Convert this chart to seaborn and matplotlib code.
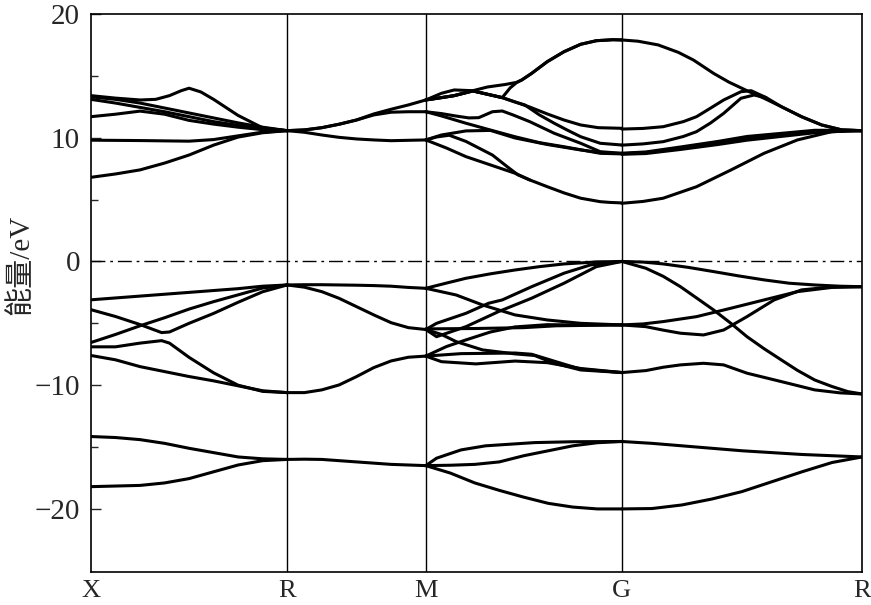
import matplotlib
matplotlib.use("Agg")
import matplotlib.pyplot as plt
import numpy as np
import pandas as pd
import seaborn as sns

# high-symmetry points (path length) and labels
k_nodes = [0.0, 0.707, 1.207, 1.914, 2.780]
k_labels = ["X", "R", "M", "G", "R"]

# common grid of fractions along one segment
FR = [0, .125, .25, .375, .5, .625, .75, .875, 1]

# ---- segment X-R (fraction, energy eV) ----
xr_c1 = [(0, 13.4), (.125, 13.2), (.25, 13.05), (.33, 13.1), (.4, 13.4), (.46, 13.8), (.5, 14.0),
         (.56, 13.7), (.625, 13.1), (.75, 11.8), (.875, 10.8), (1, 10.57)]
xr_c2 = list(zip(FR, [13.3, 13.1, 12.8, 12.4, 12.0, 11.6, 11.2, 10.85, 10.57]))
xr_c3 = list(zip(FR, [13.1, 12.8, 12.45, 12.1, 11.7, 11.3, 11.0, 10.75, 10.57]))
xr_c4 = list(zip(FR, [11.7, 11.9, 12.15, 11.9, 11.4, 11.1, 10.85, 10.65, 10.57]))
xr_c5 = [(0, 9.8), (.25, 9.77), (.5, 9.72), (.625, 9.85), (.75, 10.15), (.875, 10.45), (1, 10.57)]
xr_c6 = list(zip(FR, [6.8, 7.07, 7.4, 7.95, 8.6, 9.4, 10.05, 10.4, 10.57]))
xr_v1 = [(0, -3.1), (.25, -2.8), (.5, -2.5), (.75, -2.2), (.875, -2.0), (1, -1.9)]
xr_v2 = [(0, -3.9), (.125, -4.45), (.25, -5.1), (.36, -5.75), (.4, -5.7), (.5, -5.0), (.625, -4.2),
         (.75, -3.3), (.875, -2.45), (1, -1.9)]
xr_v3 = list(zip(FR, [-6.55, -5.9, -5.2, -4.55, -3.85, -3.25, -2.7, -2.15, -1.9]))
xr_v4 = [(0, -6.9), (.125, -6.9), (.25, -6.6), (.36, -6.4), (.4, -6.6), (.5, -7.75), (.625, -9.0),
         (.75, -10.0), (.875, -10.5), (1, -10.6)]
xr_v5 = list(zip(FR, [-7.6, -7.95, -8.5, -8.9, -9.3, -9.65, -10.05, -10.45, -10.6]))
xr_d1 = list(zip(FR, [-14.15, -14.23, -14.4, -14.7, -15.1, -15.45, -15.8, -15.95, -16.0]))
xr_d2 = list(zip(FR, [-18.2, -18.15, -18.1, -17.9, -17.55, -17.0, -16.45, -16.1, -16.0]))

# ---- segment R-M ----
rm_c1 = list(zip(FR, [10.57, 10.63, 10.81, 11.09, 11.43, 11.92, 12.3, 12.65, 13.05]))
rm_c2 = list(zip(FR, [10.57, 10.63, 10.81, 11.09, 11.43, 11.84, 12.06, 12.1, 12.1]))
rm_c3 = list(zip(FR, [10.57, 10.44, 10.22, 10.03, 9.9, 9.82, 9.76, 9.79, 9.82]))
rm_v1 = list(zip(FR, [-1.9, -1.88, -1.88, -1.9, -1.92, -1.95, -2.0, -2.1, -2.17]))
rm_v2 = list(zip(FR, [-1.9, -2.08, -2.44, -2.98, -3.65, -4.32, -4.95, -5.35, -5.5]))
rm_v3 = list(zip(FR, [-10.6, -10.6, -10.38, -9.98, -9.31, -8.58, -8.04, -7.74, -7.65]))
rm_d1 = list(zip(FR, [-16.0, -15.98, -16.0, -16.1, -16.2, -16.3, -16.4, -16.45, -16.5]))

# ---- segment M-G ----
mg_t = [(0, 13.05), (.08, 13.59), (.145, 13.86), (.24, 13.8), (.315, 14.1), (.405, 14.3), (.465, 14.48),
        (.49, 14.67), (.54, 15.2), (.62, 16.15), (.705, 16.95), (.79, 17.55), (.87, 17.84), (.955, 17.92), (1, 17.9)]
mg_q = [(0, 13.05), (.08, 13.24), (.145, 13.4), (.24, 13.78), (.315, 13.51), (.39, 13.24), (.43, 14.02),
        (.465, 14.48), (.49, 14.67), (.54, 15.2), (.62, 16.15), (.705, 16.95), (.79, 17.55), (.87, 17.84),
        (.955, 17.92), (1, 17.9)]
mg_pa = [(0, 13.05), (.08, 13.24), (.145, 13.4), (.24, 13.78), (.315, 13.51), (.39, 13.24), (.455, 12.89),
         (.53, 12.48), (.62, 11.92), (.705, 11.43), (.79, 11.03), (.88, 10.81), (1, 10.76)]
mg_pb = [(0, 13.05), (.08, 13.24), (.145, 13.4), (.24, 13.78), (.315, 13.51), (.39, 13.24), (.455, 12.89),
         (.505, 12.65), (.58, 11.84), (.655, 11.17), (.72, 10.63), (.79, 10.08), (.89, 9.55), (1, 9.41)]
mg_b = [(0, 12.1), (.08, 11.95), (.155, 11.75), (.22, 11.6), (.27, 11.62), (.34, 12.1), (.39, 12.16),
        (.445, 11.84), (.53, 11.3), (.655, 10.36), (.79, 9.55), (.89, 8.87), (1, 8.74)]
mg_c = [(0, 12.1), (.08, 11.76), (.205, 11.17), (.33, 10.62), (.455, 10.08), (.58, 9.6), (.705, 9.27),
        (.89, 8.74), (1, 8.69)]
mg_d = [(0, 9.82), (.105, 9.17), (.205, 8.47), (.33, 7.8), (.455, 7.13), (.53, 6.59), (.62, 6.04),
        (.705, 5.54), (.79, 5.11), (.89, 4.83), (.94, 4.77), (1, 4.73)]
mg_d2 = [(0, 9.82), (.055, 10.06), (.12, 10.2), (.205, 9.7), (.34, 8.6), (.42, 7.6), (.47, 7.0), (.53, 6.59)]
mg_e = [(0, 9.82), (.08, 10.22), (.205, 10.55), (.33, 10.59), (.455, 9.98), (.62, 9.45), (.79, 9.01),
        (.905, 8.77), (1, 8.73)]
mg_va = [(0, -2.17), (.105, -1.75), (.205, -1.36), (.33, -1.0), (.455, -0.69), (.58, -0.42), (.705, -0.2),
         (.87, -0.04), (1, 0)]
mg_vb = [(0, -2.17), (.155, -2.71), (.29, -3.52), (.455, -4.32), (.62, -4.73), (.79, -5.0), (1, -5.13)]
mg_vc = [(0, -5.5), (.055, -5.0), (.205, -4.19), (.32, -3.38), (.39, -3.11), (.54, -2.04), (.705, -0.95),
         (.84, -0.28), (1, 0)]
mg_vd = [(0, -5.5), (.055, -6.08), (.205, -5.27), (.37, -4.06), (.54, -2.97), (.705, -1.76), (.87, -0.42), (1, 0)]
mg_ve = [(0, -5.45), (.25, -5.42), (.5, -5.35), (.665, -5.2), (1, -5.13)]
mg_vf = [(0, -5.5), (.08, -5.9), (.155, -6.48), (.29, -7.15), (.455, -7.47), (.555, -7.6), (.655, -8.23),
         (.79, -8.77), (1, -8.98)]
mg_vg = [(0, -7.65), (.105, -6.88), (.205, -6.34), (.33, -5.7), (.455, -5.29), (.62, -5.11), (.79, -5.13), (1, -5.13)]
mg_vi = [(0, -7.65), (.18, -7.45), (.455, -7.4), (.54, -7.5), (.705, -8.3), (.79, -8.7), (1, -8.98)]
mg_vj = [(0, -7.65), (.08, -8.1), (.255, -8.28), (.455, -8.05), (.62, -8.18), (.79, -8.65), (1, -8.98)]
mg_d1 = [(0, -16.5), (.055, -15.9), (.18, -15.23), (.305, -14.9), (.555, -14.64), (.75, -14.57), (1, -14.55)]
mg_d2b = list(zip(FR, [-16.5, -16.47, -16.4, -16.2, -15.7, -15.3, -14.9, -14.65, -14.55]))
mg_d3 = list(zip(FR, [-16.5, -17.1, -17.9, -18.5, -19.05, -19.55, -19.85, -20.0, -20.0]))

# ---- segment G-R ----
gr_top = [(0, 17.9), (.067, 17.8), (.151, 17.5), (.235, 16.9), (.298, 16.28), (.382, 15.2), (.445, 14.5),
          (.521, 13.8), (.592, 13.19), (.664, 12.51), (.748, 11.7), (.832, 11.03), (.916, 10.63), (1, 10.57)]
gr_c1 = [(0, 10.7), (.088, 10.75), (.172, 10.89), (.256, 11.3), (.311, 11.7), (.37, 12.4), (.424, 13.05),
         (.496, 13.72), (.538, 13.8), (.6, 13.25), (.664, 12.51), (.748, 11.7), (.832, 11.03), (.916, 10.63), (1, 10.57)]
gr_c2 = [(0, 9.4), (.088, 9.5), (.172, 9.68), (.256, 10.1), (.311, 10.49), (.37, 11.2), (.424, 11.97),
         (.496, 13.19), (.55, 13.45), (.6, 13.25)]
gr_c3a = [(0, 8.75), (.1, 8.85), (.244, 9.25), (.4, 9.7), (.521, 10.1), (.803, 10.6), (.941, 10.6), (1, 10.57)]
gr_c3b = [(0, 8.7), (.1, 8.8), (.244, 9.15), (.4, 9.6), (.521, 9.96), (.803, 10.49), (.941, 10.57), (1, 10.57)]
gr_c3c = [(0, 8.66), (.1, 8.72), (.244, 9.05), (.4, 9.45), (.521, 9.8), (.803, 10.4), (.941, 10.55), (1, 10.57)]
gr_c4 = [(0, 4.7), (.088, 4.85), (.172, 5.11), (.311, 6.04), (.454, 7.39), (.592, 8.74), (.731, 9.82),
         (.874, 10.49), (1, 10.57)]
gr_v1 = [(0, 0), (.088, -0.05), (.172, -0.2), (.277, -0.48), (.382, -0.82), (.487, -1.17), (.592, -1.49),
         (.697, -1.76), (.803, -1.9), (.908, -2.0), (1, -2.04)]
gr_v2 = [(0, 0), (.1, -0.55), (.172, -1.2), (.244, -2.04), (.311, -2.95), (.382, -3.92), (.454, -5.0),
         (.521, -6.08), (.592, -7.05), (.664, -7.96), (.731, -8.8), (.803, -9.58), (.874, -10.1),
         (.941, -10.52), (1, -10.71)]
gr_v3 = [(0, -5.13), (.088, -5.05), (.172, -4.86), (.311, -4.46), (.454, -3.78), (.592, -3.11), (.731, -2.44),
         (.874, -2.1), (1, -2.04)]
gr_v4 = [(0, -5.13), (.1, -5.27), (.172, -5.55), (.244, -5.8), (.34, -5.94), (.424, -5.54), (.521, -4.46),
         (.634, -3.11), (.748, -2.3), (.874, -2.06), (1, -2.04)]
gr_v5 = [(0, -8.98), (.1, -8.82), (.172, -8.55), (.244, -8.36), (.34, -8.23), (.424, -8.36), (.521, -9.03),
         (.664, -9.71), (.803, -10.38), (.908, -10.62), (1, -10.71)]
gr_d1 = list(zip(FR, [-14.55, -14.7, -14.9, -15.1, -15.3, -15.45, -15.6, -15.7, -15.8]))
gr_d2 = list(zip(FR, [-20.0, -19.97, -19.68, -19.2, -18.6, -17.8, -17.0, -16.25, -15.8]))

segments = [
    [xr_c1, xr_c2, xr_c3, xr_c4, xr_c5, xr_c6, xr_v1, xr_v2, xr_v3, xr_v4, xr_v5, xr_d1, xr_d2],
    [rm_c1, rm_c2, rm_c3, rm_v1, rm_v2, rm_v3, rm_d1],
    [mg_t, mg_q, mg_pa, mg_pb, mg_b, mg_c, mg_d, mg_d2, mg_e, mg_va, mg_vb, mg_vc, mg_vd, mg_ve,
     mg_vf, mg_vg, mg_vi, mg_vj, mg_d1, mg_d2b, mg_d3],
    [gr_top, gr_c1, gr_c2, gr_c3a, gr_c3b, gr_c3c, gr_c4, gr_v1, gr_v2, gr_v3, gr_v4, gr_v5, gr_d1, gr_d2],
]

rows = []
for s, curves in enumerate(segments):
    k0, k1 = k_nodes[s], k_nodes[s + 1]
    for i, pts in enumerate(curves):
        for f, e in pts:
            rows.append((f"s{s}c{i}", k0 + f * (k1 - k0), e))
df = pd.DataFrame(rows, columns=["band", "k", "E"])

sns.set_style("ticks")
plt.rcParams["font.family"] = ["Liberation Serif", "Noto Sans CJK SC"]
plt.rcParams["axes.unicode_minus"] = True

fig = plt.figure(figsize=(8.71, 6.05), dpi=100)
ax = fig.add_axes([0.1045, 0.0545, 0.8852, 0.9224])

sns.lineplot(data=df, x="k", y="E", units="band", estimator=None, sort=False,
             color="black", linewidth=2.2, ax=ax, legend=False)

for kx in k_nodes[1:-1]:
    ax.axvline(kx, color="black", linewidth=1.0, zorder=0)
ax.axhline(0, color="black", linewidth=1.0, dashes=(10, 3.5, 2, 3.5))

ax.set_xlim(k_nodes[0], k_nodes[-1])
ax.set_ylim(-25.1, 20)
ax.set_xticks(k_nodes)
ax.set_xticklabels(k_labels, fontsize=19)
ax.set_yticks([-20, -10, 0, 10, 20])
ax.set_yticks([-15, -5, 5, 15], minor=True)
ax.tick_params(axis="y", which="major", direction="in", length=7, width=1, labelsize=21, pad=8)
ax.tick_params(axis="y", which="minor", direction="in", length=5, width=1)
ax.tick_params(axis="x", length=0, pad=6)
for sp in ax.spines.values():
    sp.set_color("black")
    sp.set_linewidth(1.2)

ax.set_xlabel("")
ax.set_ylabel("能量/eV", fontsize=21)
ax.yaxis.set_label_coords(-0.073, 0.55)

fig.savefig("out.png", dpi=100)
